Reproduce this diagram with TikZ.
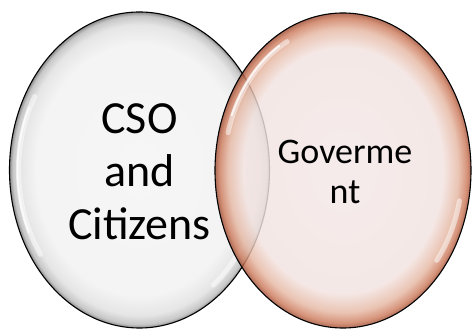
\documentclass[tikz,border=0pt]{standalone}
\usepackage{fontspec}
\setmainfont{Carlito}
\usetikzlibrary{shapes.geometric}
\pgfdeclareradialshading{greybevel}{\pgfpoint{0bp}{0bp}}{%
  rgb(0bp)=(0.965,0.965,0.965);
  rgb(20bp)=(0.955,0.955,0.955);
  rgb(23bp)=(0.90,0.90,0.90);
  rgb(24.4bp)=(0.78,0.78,0.78);
  rgb(25bp)=(0.55,0.55,0.55);
  rgb(50bp)=(0.55,0.55,0.55)}
\pgfdeclareradialshading{pinkbevel}{\pgfpoint{0bp}{0bp}}{%
  rgb(0bp)=(0.955,0.905,0.905);
  rgb(19.5bp)=(0.95,0.89,0.88);
  rgb(22.5bp)=(0.90,0.72,0.64);
  rgb(24.2bp)=(0.80,0.48,0.36);
  rgb(25bp)=(0.62,0.30,0.20);
  rgb(50bp)=(0.62,0.30,0.20)}
\tikzset{
  bubble/.style={ellipse, draw=black, line width=1.1pt, inner sep=0pt},
  shine/.style={white, line cap=round, opacity=0.5, line width=5pt},
  shinecore/.style={white, line cap=round, opacity=0.75, line width=2pt},
  bigtxt/.style={align=center, font=\fontsize{46}{53}\selectfont, inner sep=0pt},
  midtxt/.style={align=center, font=\fontsize{36}{40}\selectfont, inner sep=0pt}
}
\begin{document}
\begin{tikzpicture}[x=1pt,y=1pt]
\useasboundingbox (0,0) rectangle (472,329);
% left bubble
\node[bubble, shading=greybevel, minimum width=260pt, minimum height=316pt] (L) at (139.5,159) {};
\draw[shine] (L.center) ++(150:121 and 147) arc[start angle=150, end angle=215, x radius=121, y radius=147];
\draw[shinecore] (L.center) ++(155:122 and 148) arc[start angle=155, end angle=205, x radius=122, y radius=148];
\draw[shine] (L.center) ++(-32:120 and 146) arc[start angle=-32, end angle=-52, x radius=120, y radius=146];
% right bubble
\node[bubble, shading=pinkbevel, fill opacity=0.82, minimum width=256pt, minimum height=315pt] (R) at (343,158.5) {};
\draw[shine] (R.center) ++(118:119 and 146) arc[start angle=118, end angle=165, x radius=119, y radius=146];
\draw[shinecore] (R.center) ++(122:120 and 147) arc[start angle=122, end angle=158, x radius=120, y radius=147];
\draw[shine] (R.center) ++(-12:119 and 146) arc[start angle=-12, end angle=-38, x radius=119, y radius=146];
% texts
\node[bigtxt] (cso) at (139.5,157) {CSO\\and\\Citizens};
\node[midtxt] (gov) at (345,157) {Goverme\\nt};
\end{tikzpicture}
\end{document}
